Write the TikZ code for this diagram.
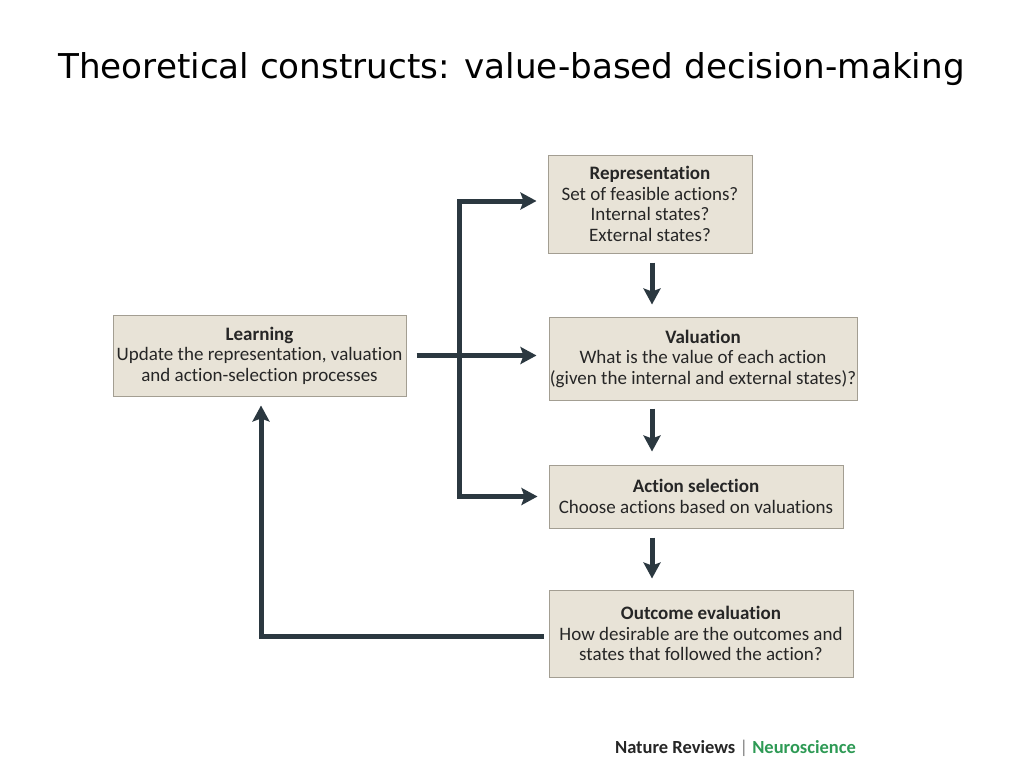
\documentclass[tikz,border=0pt]{standalone}
\usepackage{fontspec}
\setmainfont[Ligatures=NoCommon]{Carlito}
\newfontfamily\titlefont{DejaVu Sans}
\usetikzlibrary{arrows.meta,calc}
\definecolor{boxfill}{HTML}{E8E3D7}
\definecolor{boxline}{HTML}{A39E92}
\definecolor{arrowc}{HTML}{2B3840}
\definecolor{nrgreen}{HTML}{2E9A55}
\begin{document}
\begin{tikzpicture}[x=1pt,y=-1pt,
  procbox/.style={draw=boxline, fill=boxfill, line width=1pt, inner sep=0pt,
    align=center, font=\fontsize{19}{20.5}\selectfont, text=black!85},
  flow/.style={draw=arrowc, line width=5pt, line join=miter,
    -{Stealth[length=16pt,width=17pt,inset=3pt]}},
  flowtwo/.style={draw=arrowc, line width=5pt, line join=miter,
    {Stealth[length=16pt,width=17pt,inset=3pt]}-{Stealth[length=16pt,width=17pt,inset=3pt]}}]
\useasboundingbox (0,0) rectangle (1024,768);

\node[font=\titlefont\fontsize{34.2}{40}\selectfont, anchor=base west, inner sep=0pt] (title) at (58,78)
  {Theoretical constructs: value-based decision-making};

\node[procbox, minimum width=204pt, minimum height=98pt] (rep) at (650,204)
  {\textbf{Representation}\\Set of feasible actions?\\Internal states?\\External states?};
\node[procbox, minimum width=308pt, minimum height=83pt] (val) at (703,358.5)
  {\textbf{Valuation}\\What is the value of each action\\(given the internal and external states)?};
\node[procbox, minimum width=294pt, minimum height=63pt] (act) at (696,496.5)
  {\textbf{Action selection}\\Choose actions based on valuations};
\node[procbox, minimum width=304pt, minimum height=87pt] (out) at (701,633.5)
  {\textbf{Outcome evaluation}\\How desirable are the outcomes and\\states that followed the action?};
\node[procbox, minimum width=293pt, minimum height=81pt] (learn) at (259.5,355.5)
  {\textbf{Learning}\\Update the representation, valuation\\and action-selection processes};

\coordinate (colx) at (652,0);
\coordinate (trunk) at (459,0);
\coordinate (fbx) at (261,0);

\draw[flow] ($(rep.south -| colx)+(0,9)$) -- ($(val.north -| colx)+(0,-12)$);
\draw[flow] ($(val.south -| colx)+(0,8)$) -- ($(act.north -| colx)+(0,-13)$);
\draw[flow] ($(act.south -| colx)+(0,9)$) -- ($(out.north -| colx)+(0,-11)$);

\draw[flowtwo] ($(rep.west)+(-11,-3)$) -- ($(trunk |- rep.west)+(0,-3)$)
  -- (trunk |- act.west) -- ($(act.west)+(-11,0)$);
\draw[flow] ($(learn.east)+(10,0)$) -- ($(val.west |- learn.east)+(-12,0)$);
\draw[flow] ($(out.west)+(-5,3)$) -| ($(learn.south -| fbx)+(0,9)$);

\node[font=\bfseries\fontsize{18.5}{20}\selectfont, text=black!85] (credit) at (735.5,748)
  {Nature Reviews {\mdseries\color{gray}|} \textcolor{nrgreen}{Neuroscience}};
\end{tikzpicture}
\end{document}
